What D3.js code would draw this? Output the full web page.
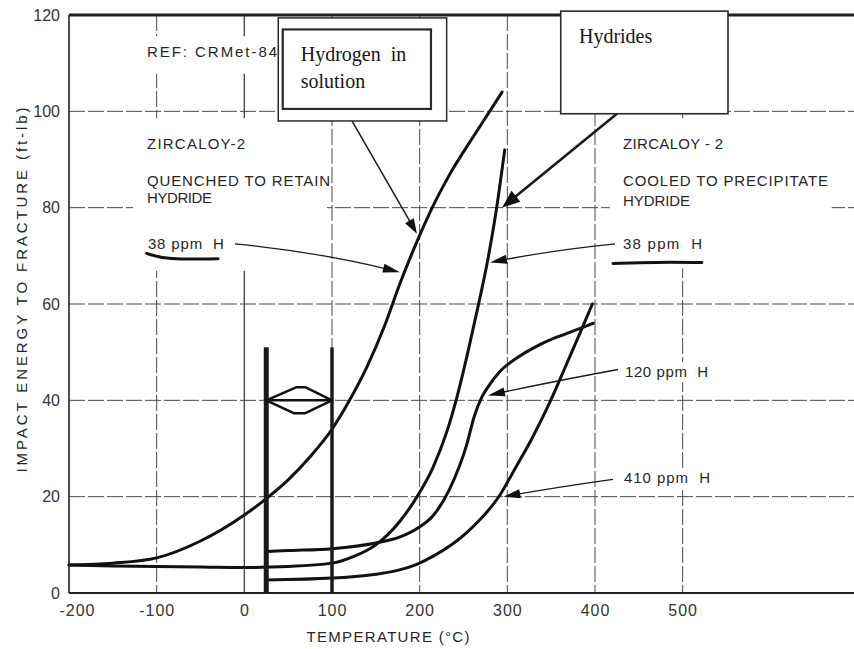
<!DOCTYPE html>
<html>
<head>
<meta charset="utf-8">
<script src="https://cdn.jsdelivr.net/npm/d3@7"></script>
<style>
  body { margin: 0; background: #fff; }
  text { font-family: "Liberation Sans", Arial, sans-serif; fill: #262626; }
  .serif { font-family: "Liberation Serif", "Times New Roman", serif; fill: #151515; }
</style>
</head>
<body>
<svg id="chart" width="854" height="649"></svg>
<script>
const tempTicks = [-200, -100, 0, 100, 200, 300, 400, 500]
const energyTicks = [0, 20, 40, 60, 80, 100, 120]

// 38 ppm H, quenched to retain hydride (hydrogen in solution)
const quenchedTemp = [-200, -150, -100, -50, 0, 25, 50, 75, 100, 120, 140, 160, 177, 197, 213, 233, 265, 294]
const quenched38 = [5.8, 6.2, 7.3, 10.8, 16.2, 19.6, 23.5, 28.3, 34, 40, 47, 55.5, 64, 73, 79.5, 86.5, 95.8, 104]

// 38 ppm H, cooled to precipitate hydride
const cooledTemp = [-200, -150, -100, -50, 0, 50, 100, 125, 150, 177, 197, 215, 231, 243, 255, 266, 277, 287, 297]
const cooled38 = [5.8, 5.6, 5.5, 5.4, 5.3, 5.5, 6.2, 7.6, 10, 14.8, 20, 26, 33.5, 41, 50, 59, 68.5, 79, 92]

// 120 ppm H
const temp120 = [25, 50, 100, 150, 177, 198, 215, 234, 254, 262, 271, 278, 291, 310, 329, 348, 368, 398]
const energy120 = [8.6, 8.8, 9.2, 10.4, 11.6, 13.5, 16, 21.5, 31, 36.5, 40.7, 42.8, 45.9, 48.7, 50.8, 52.5, 53.9, 56]

// 410 ppm H
const temp410 = [25, 100, 150, 177, 196, 215, 254, 291, 310, 329, 348, 368, 383, 397]
const energy410 = [2.7, 3.1, 3.9, 4.8, 5.9, 7.6, 12.6, 20.2, 26.2, 32.4, 39.4, 47.7, 54, 60]

// test window bars and double arrow (temperature, energy)
const windowTemps = [25, 100]
const windowTop = 51
const windowArrowEnergy = 40

const svg = d3.select('#chart')
const x = d3.scaleLinear().domain([-200, 700]).range([69, 858])
const y = d3.scaleLinear().domain([0, 120]).range([593, 15])
const P = (t, e) => [x(t), y(e)]

// grid
const grid = svg.append('g')
grid.selectAll('line.h')
  .data(energyTicks.filter((d) => d > 0 && d < 120))
  .join('line')
  .attr('x1', x(-200)).attr('x2', x(700))
  .attr('y1', (d) => y(d)).attr('y2', (d) => y(d))
  .attr('stroke', '#4a4a4a').attr('stroke-width', 1)
  .attr('stroke-dasharray', '16,3')
grid.selectAll('line.v')
  .data(tempTicks.filter((d) => d > -200))
  .join('line')
  .attr('x1', (d) => x(d)).attr('x2', (d) => x(d))
  .attr('y1', y(120)).attr('y2', y(0))
  .attr('stroke', '#4a4a4a').attr('stroke-width', (d) => d === 0 ? 1.4 : 1)
  .attr('stroke-dasharray', (d) => d === 0 ? null : '16,3')

// white patches behind the text blocks
const masks = [
  [-127, 98.6, 94.3, 66.9],
  [417, 98.6, 670, 67.4],
  [-119, 115.6, 38.4, 107.8]
]
svg.append('g').selectAll('rect')
  .data(masks)
  .join('rect')
  .attr('x', (d) => x(d[0])).attr('y', (d) => y(d[1]))
  .attr('width', (d) => x(d[2]) - x(d[0])).attr('height', (d) => y(d[3]) - y(d[1]))
  .attr('fill', '#fff')

// axes
svg.append('line')
  .attr('x1', x(-200)).attr('x2', x(-200)).attr('y1', y(120)).attr('y2', y(0))
  .attr('stroke', '#222').attr('stroke-width', 1.6)
svg.append('line')
  .attr('x1', x(-200)).attr('x2', x(700)).attr('y1', y(0)).attr('y2', y(0))
  .attr('stroke', '#222').attr('stroke-width', 2)

const yAxis = svg.append('g')
  .attr('transform', `translate(${x(-200)},0)`)
  .call(d3.axisLeft(y).tickValues(energyTicks).tickSize(0).tickPadding(9))
yAxis.select('.domain').remove()
yAxis.selectAll('text')
  .attr('font-size', 16).attr('font-family', '"Liberation Sans", Arial, sans-serif')
  .style('fill', '#333')

const xAxis = svg.append('g')
  .attr('transform', `translate(0,${y(0)})`)
  .call(d3.axisBottom(x).tickValues(tempTicks).tickSize(0).tickPadding(12)
    .tickFormat((d) => d))
xAxis.select('.domain').remove()
xAxis.selectAll('text')
  .attr('font-size', 16).attr('font-family', '"Liberation Sans", Arial, sans-serif')
  .attr('letter-spacing', 1)
  .attr('dx', (d) => d === -200 ? 8 : 0)
  .style('fill', '#333')

svg.append('text')
  .attr('x', 388).attr('y', 642)
  .attr('text-anchor', 'middle')
  .attr('font-size', 15)
  .attr('textLength', 163).attr('lengthAdjust', 'spacing')
  .text('TEMPERATURE (°C)')

svg.append('text')
  .attr('transform', 'translate(27,290) rotate(-90)')
  .attr('text-anchor', 'middle')
  .attr('font-size', 15)
  .attr('textLength', 365).attr('lengthAdjust', 'spacing')
  .text('IMPACT ENERGY TO FRACTURE (ft-lb)')

// top border
svg.append('line')
  .attr('x1', x(-200)).attr('x2', x(700)).attr('y1', y(120)).attr('y2', y(120))
  .attr('stroke', '#222').attr('stroke-width', 3)

// curves
const line = d3.line()
  .x((d) => x(d[0]))
  .y((d) => y(d[1]))
  .curve(d3.curveMonotoneX)

const curves = [
  d3.zip(quenchedTemp, quenched38),
  d3.zip(cooledTemp, cooled38),
  d3.zip(temp120, energy120),
  d3.zip(temp410, energy410)
]
svg.append('g').selectAll('path')
  .data(curves)
  .join('path')
  .attr('d', line)
  .attr('fill', 'none')
  .attr('stroke', '#111')
  .attr('stroke-width', 3)
  .attr('stroke-linecap', 'round')

// test window bars
svg.append('g').selectAll('line')
  .data(windowTemps)
  .join('line')
  .attr('x1', (d) => x(d)).attr('x2', (d) => x(d))
  .attr('y1', y(windowTop)).attr('y2', y(0))
  .attr('stroke', '#1a1a1a')
  .attr('stroke-width', (d, i) => i === 0 ? 5 : 3.5)

svg.append('line')
  .attr('x1', x(windowTemps[0])).attr('x2', x(windowTemps[1]))
  .attr('y1', y(windowArrowEnergy)).attr('y2', y(windowArrowEnergy))
  .attr('stroke', '#111').attr('stroke-width', 2.5)
const hex = [[25, 40], [59, 42.7], [70, 42.7], [100, 40], [69, 37.3], [57, 37.3]]
svg.append('path')
  .attr('d', d3.line().x((d) => x(d[0])).y((d) => y(d[1])).curve(d3.curveLinearClosed)(hex))
  .attr('fill', 'none').attr('stroke', '#111').attr('stroke-width', 2.5)
  .attr('stroke-linejoin', 'round')

// annotation arrows
function arrow(from, to, opts) {
  const [x0, y0] = P(...from)
  const [x1, y1] = P(...to)
  const dx = x1 - x0, dy = y1 - y0
  const len = Math.hypot(dx, dy)
  const nx = -dy / len, ny = dx / len
  const cx = (x0 + x1) / 2 + nx * (opts.bend || 0)
  const cy = (y0 + y1) / 2 + ny * (opts.bend || 0)
  const ux = (x1 - cx) / Math.hypot(x1 - cx, y1 - cy)
  const uy = (y1 - cy) / Math.hypot(x1 - cx, y1 - cy)
  // stop the shaft a little short of the head tip
  const path = d3.path()
  path.moveTo(x0, y0)
  path.quadraticCurveTo(cx, cy, x1 - ux * opts.head * 0.6, y1 - uy * opts.head * 0.6)
  svg.append('path').attr('d', path.toString())
    .attr('fill', 'none').attr('stroke', '#1a1a1a').attr('stroke-width', opts.width)
  const bx = x1 - ux * opts.head, by = y1 - uy * opts.head
  svg.append('polygon')
    .attr('points', [[x1, y1], [bx - uy * opts.half, by + ux * opts.half], [bx + uy * opts.half, by - ux * opts.half]].join(' '))
    .attr('fill', '#111')
}

const arrows = [
  { from: [122.8, 98.0], to: [196.9, 74.6], width: 1.5, head: 15, half: 5 },
  { from: [425, 99.5], to: [293.9, 80.0], width: 2.6, head: 18, half: 7 },
  { from: [-10.7, 72.5], to: [177.5, 66.6], width: 1.3, head: 17, half: 4.5, bend: -6 },
  { from: [422.8, 72.5], to: [280.2, 68.6], width: 1.3, head: 17, half: 4.5, bend: 3 },
  { from: [426.2, 46.4], to: [277.9, 41.0], width: 1.3, head: 17, half: 4.5, bend: 1 },
  { from: [420.5, 23.6], to: [295.4, 20.0], width: 1.3, head: 17, half: 4.5, bend: 1 }
]
arrows.forEach((a) => arrow(a.from, a.to, a))

// boxes
function box(t0, e0, t1, e1, sw) {
  svg.append('rect')
    .attr('x', x(t0)).attr('y', y(e0))
    .attr('width', x(t1) - x(t0)).attr('height', y(e1) - y(e0))
    .attr('fill', '#fff').attr('stroke', '#2a2a2a').attr('stroke-width', sw)
}
box(38.7, 119.4, 230.8, 98.0, 1.5)
box(43.8, 117.0, 212.9, 100.5, 2.2)
box(360.9, 120.8, 551.7, 99.5, 1.6)

// text notes
const notes = [
  { t: -111, e: 111.3, text: 'REF: CRMet-84', len: 130 },
  { t: -111, e: 92.2, text: 'ZIRCALOY-2', len: 98 },
  { t: -111, e: 84.4, text: 'QUENCHED TO RETAIN', len: 183 },
  { t: -111, e: 81.0, text: 'HYDRIDE', len: 65 },
  { t: -110, e: 71.5, text: '38 ppm  H', len: 76 },
  { t: 432, e: 92.2, text: 'ZIRCALOY - 2', len: 100 },
  { t: 432, e: 84.6, text: 'COOLED TO PRECIPITATE', len: 205 },
  { t: 432, e: 80.4, text: 'HYDRIDE', len: 67 },
  { t: 432, e: 71.5, text: '38 ppm  H', len: 79 },
  { t: 434.2, e: 44.8, text: '120 ppm  H', len: 83, bg: true },
  { t: 433.1, e: 22.8, text: '410 ppm  H', len: 86, bg: true }
]
notes.forEach((n) => {
  if (n.bg) {
    svg.append('rect')
      .attr('x', x(n.t) - 4).attr('y', y(n.e) - 15)
      .attr('width', n.len + 8).attr('height', 20)
      .attr('fill', '#fff')
  }
  svg.append('text')
    .attr('x', x(n.t)).attr('y', y(n.e))
    .attr('font-size', 15)
    .attr('textLength', n.len).attr('lengthAdjust', 'spacing')
    .style('white-space', 'pre')
    .text(n.text)
})

// hand-drawn underlines under the 38 ppm labels
const underlines = [
  [[-111.4, 70.5], [-88.6, 69.2], [-30, 69.4]],
  [[420.5, 68.4], [470, 68.7], [522, 68.6]]
]
svg.append('g').selectAll('path')
  .data(underlines)
  .join('path')
  .attr('d', d3.line().x((d) => x(d[0])).y((d) => y(d[1])).curve(d3.curveBasis))
  .attr('fill', 'none').attr('stroke', '#111').attr('stroke-width', 3)
  .attr('stroke-linecap', 'round')

// box captions
const captions = [
  { t: 64.3, e: 110.5, text: 'Hydrogen  in' },
  { t: 64.3, e: 104.9, text: 'solution' },
  { t: 381.7, e: 114.2, text: 'Hydrides' }
]
svg.append('g').selectAll('text')
  .data(captions)
  .join('text')
  .attr('class', 'serif')
  .attr('x', (d) => x(d.t)).attr('y', (d) => y(d.e))
  .attr('font-size', 20)
  .style('white-space', 'pre')
  .text((d) => d.text)
</script>
</body>
</html>
